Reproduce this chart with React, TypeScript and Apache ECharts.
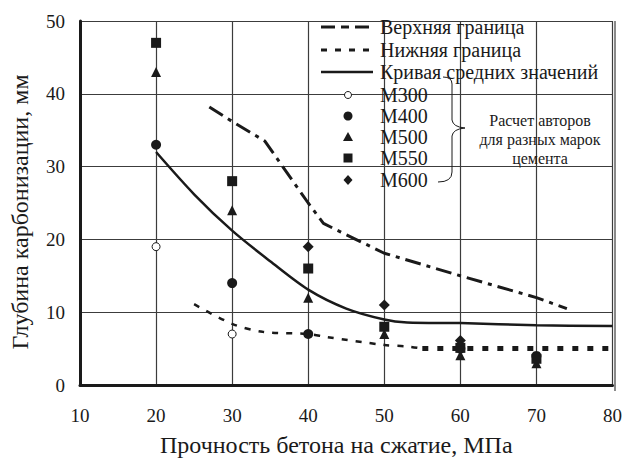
import React, { useEffect, useRef } from "react";
import * as echarts from "echarts";

const xTicks = [10, 20, 30, 40, 50, 60, 70, 80];
const upperBound: [number, number][] = [
  [27, 38.2], [30, 36.2], [34.3, 33.5], [40, 25], [42, 22.2], [44.3, 21], [50, 18.1], [60, 15], [70, 12], [74, 10.5],
];
const lowerBoundA: [number, number][] = [
  [25, 11.1], [30, 8.4], [34, 7.3], [40, 7], [42.4, 6.6], [50, 5.5], [53, 5.3], [55, 5.0],
];
const lowerBoundB: [number, number][] = [
  [55, 5.0], [80, 5.0],
];
const meanCurve: [number, number][] = [
  [20, 32], [25, 26.2], [30, 21.2], [35, 17], [40, 13.1], [45, 10.5], [50, 9], [53, 8.6], [60, 8.5], [70, 8.2], [80, 8.1],
];
const m300: [number, number][] = [[20, 19], [30, 7]];
const m400: [number, number][] = [[20, 33], [30, 14], [40, 7], [60, 5], [70, 4]];
const m500: [number, number][] = [[20, 43], [30, 24], [40, 12], [50, 7], [60, 4.1], [70, 3]];
const m550: [number, number][] = [[20, 47], [30, 28], [40, 16], [50, 8], [60, 5.1], [70, 3.6]];
const m600: [number, number][] = [[40, 19], [50, 11], [60, 6.1]];

const legendLines = ["Верхняя граница", "Нижняя граница", "Кривая средних значений"];
const legendMarks = ["М300", "М400", "М500", "М550", "М600"];
const noteLines = ["Расчет авторов", "для разных марок", "цемента"];

const FONT = "Liberation Serif";
const INK = "#1a1a1a";
const GRID = "#3c3c3c";

export default function App() {
  const ref = useRef<HTMLDivElement>(null);
  useEffect(() => {
    if (!ref.current) return;
    const chart = echarts.init(ref.current, undefined, { renderer: "svg" });
    const lx1 = 321, lx2 = 373, tx = 380;
    const rowY = [27, 50, 72, 95, 116, 137, 158, 180];
    const lineStyles = [
      { stroke: INK, lineWidth: 3, lineDash: [14, 6, 8, 6] },
      { stroke: INK, lineWidth: 3, lineDash: [6, 8] },
      { stroke: INK, lineWidth: 2.5 },
    ];
    const txt = (text: string, x: number, y: number, size: number, align = "left") => ({
      type: "text", x, y, z: 10,
      style: { text, fontFamily: FONT, fontSize: size, fill: INK, align, verticalAlign: "middle" },
    });
    const graphics: any[] = [];
    legendLines.forEach((t, i) => {
      graphics.push({ type: "line", shape: { x1: lx1, y1: rowY[i], x2: lx2, y2: rowY[i] }, style: lineStyles[i], z: 10 });
      graphics.push(txt(t, tx, rowY[i], 20));
    });
    const mx = 348;
    legendMarks.forEach((t, i) => {
      const y = rowY[i + 3];
      graphics.push(txt(t, tx, y, 20));
      if (i === 0) graphics.push({ type: "circle", shape: { cx: mx, cy: y, r: 3.5 }, style: { fill: "#fff", stroke: INK, lineWidth: 1 }, z: 10 });
      if (i === 1) graphics.push({ type: "circle", shape: { cx: mx, cy: y, r: 4.5 }, style: { fill: INK }, z: 10 });
      if (i === 2) graphics.push({ type: "polygon", shape: { points: [[mx, y - 5], [mx + 5, y + 4], [mx - 5, y + 4]] }, style: { fill: INK }, z: 10 });
      if (i === 3) graphics.push({ type: "rect", shape: { x: mx - 4.5, y: y - 4.5, width: 9, height: 9 }, style: { fill: INK }, z: 10 });
      if (i === 4) graphics.push({ type: "polygon", shape: { points: [[mx, y - 5], [mx + 4.5, y], [mx, y + 5], [mx - 4.5, y]] }, style: { fill: INK }, z: 10 });
    });
    // brace
    const bs = { stroke: INK, lineWidth: 1, fill: null };
    graphics.push({ type: "bezierCurve", shape: { x1: 443, y1: 77, x2: 452, y2: 84, cpx1: 452, cpy1: 77 }, style: bs, z: 10 });
    graphics.push({ type: "line", shape: { x1: 452, y1: 84, x2: 452, y2: 120 }, style: bs, z: 10 });
    graphics.push({ type: "bezierCurve", shape: { x1: 452, y1: 120, x2: 465, y2: 128, cpx1: 453, cpy1: 127 }, style: bs, z: 10 });
    graphics.push({ type: "bezierCurve", shape: { x1: 465, y1: 128, x2: 452, y2: 136, cpx1: 453, cpy1: 129 }, style: bs, z: 10 });
    graphics.push({ type: "line", shape: { x1: 452, y1: 136, x2: 452, y2: 172 }, style: bs, z: 10 });
    graphics.push({ type: "bezierCurve", shape: { x1: 452, y1: 172, x2: 438, y2: 182, cpx1: 452, cpy1: 182 }, style: bs, z: 10 });
    noteLines.forEach((t, i) => {
      graphics.push(txt(t, 540, 120 + i * 19, 16, "center"));
    });

    const sc = (name: string, data: [number, number][], symbol: string, size: number, hollow = false) => ({
      name, type: "scatter", data, symbol, symbolSize: size, z: 5,
      itemStyle: hollow ? { color: "#fff", borderColor: INK, borderWidth: 1, opacity: 1 } : { color: INK, opacity: 1 },
    });

    chart.setOption({
      animation: false,
      backgroundColor: "#fff",
      textStyle: { fontFamily: FONT },
      grid: { left: 77, right: 10, top: 21, bottom: 71, containLabel: false },
      xAxis: {
        type: "value", min: 10, max: 80, interval: 10,
        name: "Прочность бетона на сжатие, МПа", nameLocation: "middle", nameGap: 48,
        nameTextStyle: { fontFamily: FONT, fontSize: 24, color: INK, padding: [0, 20, 0, 0] },
        axisLine: { show: true, onZero: false, lineStyle: { color: INK, width: 3 } },
        axisTick: { show: false },
        axisLabel: { fontFamily: FONT, fontSize: 19, color: INK, margin: 21, customValues: xTicks },
        splitLine: { show: true, lineStyle: { color: GRID, width: 1.2 } },
      },
      yAxis: {
        type: "value", min: 0, max: 50, interval: 10,
        name: "Глубина карбонизации, мм", nameLocation: "middle", nameGap: 48,
        nameTextStyle: { fontFamily: FONT, fontSize: 24, color: INK, padding: [0, 18, 0, 0] },
        axisLine: { show: true, lineStyle: { color: INK, width: 3 } },
        axisTick: { show: false },
        axisLabel: { fontFamily: FONT, fontSize: 19, color: INK, margin: 15 },
        splitLine: { show: true, lineStyle: { color: GRID, width: 1.2 } },
      },
      graphic: [
        { type: "line", shape: { x1: 615, y1: 21, x2: 615, y2: 391 }, style: { stroke: GRID, lineWidth: 1.2 }, z: 1 },
        ...graphics,
      ],
      series: [
        { name: "Верхняя граница", type: "line", data: upperBound, showSymbol: false, lineStyle: { color: INK, width: 3, type: [16, 6, 4, 6] }, z: 3 },
        { name: "Нижняя граница", type: "line", data: lowerBoundA, showSymbol: false, smooth: 0.3, lineStyle: { color: INK, width: 2.5, type: [6, 8] }, z: 3 },
        { name: "Нижняя граница 2", type: "line", data: lowerBoundB, showSymbol: false, lineStyle: { color: INK, width: 5, type: [6, 9] }, z: 3 },
        { name: "Кривая средних значений", type: "line", data: meanCurve, showSymbol: false, smooth: 0.3, lineStyle: { color: INK, width: 2.5 }, z: 3 },
        sc("М300", m300, "circle", 8, true),
        sc("М400", m400, "circle", 10),
        sc("М500", m500, "triangle", 10),
        sc("М550", m550, "rect", 10),
        sc("М600", m600, "diamond", 11),
      ],
    });
    return () => chart.dispose();
  }, []);
  return <div ref={ref} style={{ width: 625, height: 462, position: "absolute", left: 0, top: 0 }} />;
}
